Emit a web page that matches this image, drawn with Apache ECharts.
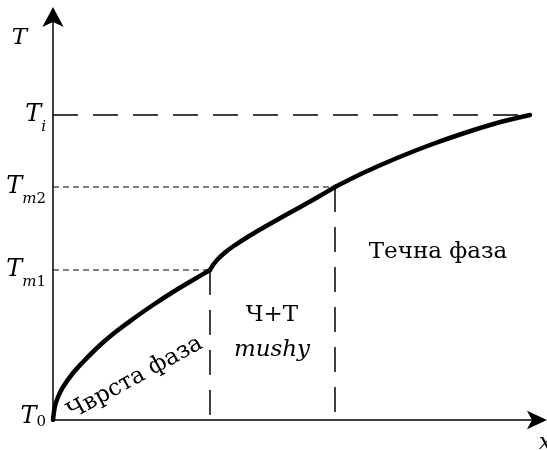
<!DOCTYPE html>
<html>
<head>
<meta charset="utf-8">
<script src="https://cdn.jsdelivr.net/npm/echarts@6/dist/echarts.min.js"></script>
<style>
  html, body { margin: 0; padding: 0; background: #fff; }
  #chart { width: 547px; height: 450px; }
</style>
</head>
<body>
<div id="chart"></div>
<script>
// Temperature profile T(x) across the solid, mushy and liquid zones
const solidX  = [0, 2, 5, 10, 20, 30, 45, 60, 80, 100, 120, 140, 157];
const solidT  = [0, 14, 23, 33, 47, 58, 73, 86, 101, 115, 128, 140, 150];
const mushyX  = [157, 160, 165, 172, 180, 197, 215, 230, 250, 265, 282];
const mushyT  = [150, 155, 161, 167.5, 173.5, 184.5, 195, 203.5, 214.5, 223, 233];
const liquidX = [282, 310, 344, 377, 410, 444, 477];
const liquidT = [233, 247, 262, 275, 286.5, 297, 305];

// Characteristic temperatures and zone boundaries
const T0 = 0, Tm1 = 150, Tm2 = 233, Ti = 305;
const xSolidus = 157, xLiquidus = 282, xEnd = 477;

// Temperature-axis tick values and their labels (rich text with subscripts)
const tickValues = [T0, Tm1, Tm2, Ti];
const tickLabels = ['{t0|T}{n0|0}', '{t|T}{i|m}{n|1}', '{t|T}{i|m}{n|2}', '{t|T}{i|i}'];

// Zone captions
const zoneSolid = 'Чврста фаза';
const zoneMushy = 'Ч+Т';
const zoneMushyEn = 'mushy';
const zoneLiquid = 'Течна фаза';

const pairs = (xs, ys) => xs.map((x, k) => [x, ys[k]]);

const serif = 'DejaVu Serif';
const axisStyle = { color: '#000', width: 1.5 };
const fineDash = { color: '#000', width: 1, type: [6, 4] };
const longDash = { color: '#000', width: 1.5, type: [25, 15] };

function guide(points, style) {
  return {
    type: 'line', data: points, symbol: 'none', silent: true,
    lineStyle: style, z: 1
  };
}
function profile(points) {
  return {
    type: 'line', data: points, symbol: 'none', smooth: 0.35,
    lineStyle: { color: '#000', width: 4.5, cap: 'round', join: 'round' }, z: 3
  };
}

const chart = echarts.init(document.getElementById('chart'), null, { renderer: 'canvas' });
chart.setOption({
  animation: false,
  backgroundColor: '#fff',
  grid: { left: 53, right: 10, top: 17, bottom: 30, outerBoundsMode: 'none', containLabel: false },
  xAxis: {
    type: 'value', min: 0, max: 484,
    name: 'x', nameLocation: 'end', nameGap: 2,
    nameTextStyle: { fontFamily: serif, fontStyle: 'italic', fontSize: 22, color: '#000',
                     align: 'left', verticalAlign: 'top', padding: [12, 0, 0, 0] },
    axisLine: { symbol: ['none', 'arrow'], symbolSize: [14, 20], symbolOffset: [0, 10], lineStyle: axisStyle },
    axisTick: { show: false }, axisLabel: { show: false }, splitLine: { show: false }
  },
  yAxis: {
    type: 'value', min: 0, max: 403,
    name: 'T', nameLocation: 'end', nameGap: -10,
    nameTextStyle: { fontFamily: serif, fontStyle: 'italic', fontSize: 23, color: '#000',
                     align: 'right', verticalAlign: 'top', padding: [0, 26, 0, 0] },
    axisLine: { symbol: ['none', 'arrow'], symbolSize: [16, 20], symbolOffset: [0, 10], lineStyle: axisStyle },
    axisTick: { show: false }, splitLine: { show: false },
    axisLabel: {
      customValues: tickValues,
      margin: 7,
      formatter: v => tickLabels[tickValues.indexOf(v)],
      rich: {
        t:  { fontFamily: serif, fontStyle: 'italic', fontSize: 24, color: '#000', lineHeight: 40, verticalAlign: 'middle' },
        i:  { fontFamily: serif, fontStyle: 'italic', fontSize: 15, color: '#000', lineHeight: 14, verticalAlign: 'bottom' },
        n:  { fontFamily: serif, fontSize: 15, color: '#000', lineHeight: 14, verticalAlign: 'bottom' },
        t0: { fontFamily: serif, fontStyle: 'italic', fontSize: 24, color: '#000', lineHeight: 30, verticalAlign: 'top', padding: [0, 0, 21, 0] },
        n0: { fontFamily: serif, fontSize: 15, color: '#000', lineHeight: 14, verticalAlign: 'top', padding: [10, 0, 0, 0] }
      }
    }
  },
  series: [
    guide([[0, Tm1], [xSolidus, Tm1]], fineDash),
    guide([[0, Tm2], [xLiquidus, Tm2]], fineDash),
    guide([[0, Ti], [xEnd, Ti]], longDash),
    guide([[xSolidus, Tm1], [xSolidus, 0]], longDash),
    guide([[xLiquidus, Tm2], [xLiquidus, 0]], longDash),
    profile(pairs(solidX, solidT)),
    profile(pairs(mushyX, mushyT)),
    profile(pairs(liquidX, liquidT))
  ],
  graphic: [
    { type: 'text', x: 135, y: 378, rotation: 0.5, silent: true,
      style: { text: zoneSolid, font: '23px "DejaVu Serif"', fill: '#000', align: 'center', verticalAlign: 'middle' } },
    { type: 'text', x: 272, y: 315, silent: true,
      style: { text: zoneMushy, font: '23px "DejaVu Serif"', fill: '#000', align: 'center', verticalAlign: 'middle' } },
    { type: 'text', x: 272, y: 350, silent: true,
      style: { text: zoneMushyEn, font: 'italic 23px "DejaVu Serif"', fill: '#000', align: 'center', verticalAlign: 'middle' } },
    { type: 'text', x: 438, y: 252, silent: true,
      style: { text: zoneLiquid, font: '23px "DejaVu Serif"', fill: '#000', align: 'center', verticalAlign: 'middle' } }
  ]
});
</script>
</body>
</html>
